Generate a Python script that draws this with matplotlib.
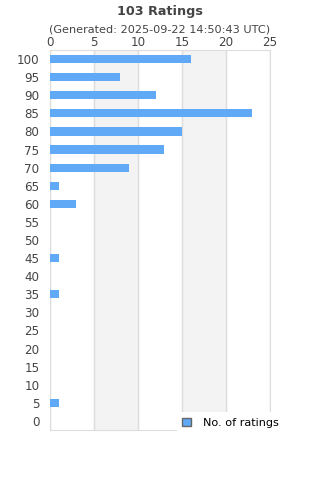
import numpy as np
import matplotlib
matplotlib.use("Agg")
import matplotlib.pyplot as plt
from matplotlib.patches import Patch

scores = [100, 95, 90, 85, 80, 75, 70, 65, 60, 55, 50, 45, 40, 35, 30, 25, 20, 15, 10, 5, 0]
counts = [16, 8, 12, 23, 15, 13, 9, 1, 3, 0, 0, 1, 0, 1, 0, 0, 0, 0, 0, 1, 0]
xticks = [0, 5, 10, 15, 20, 25]

txt = "#444444"
fig = plt.figure(figsize=(3.2, 4.8), dpi=100)
ax = fig.add_axes([50/320, 50/480, 220/320, 380/480])

y = np.arange(len(scores))
ax.barh(y, counts, height=0.45, color="#60a9f6", zorder=3)
ax.set_ylim(len(scores) - 0.5, -0.5)
ax.set_xlim(0, 25)

for a, b in [(5, 10), (15, 20)]:
    ax.axvspan(a, b, color="#f3f3f3", zorder=0)
for v in xticks:
    ax.axvline(v, color="#dddddd", lw=1, zorder=1)

ax.xaxis.tick_top()
ax.set_xticks(xticks)
ax.set_yticks(y)
ax.set_yticklabels([str(s) for s in scores])
ax.tick_params(length=0, labelsize=8.6, colors=txt)
ax.tick_params(axis="y", pad=7.5)
ax.tick_params(axis="x", pad=1)
for s in ax.spines.values():
    s.set_color("#dddddd")

fig.text(0.5, 1 - 11/480, "103 Ratings", ha="center", va="center",
         fontsize=9.2, fontweight="bold", color=txt)
fig.text(0.5, 1 - 30/480, "(Generated: 2025-09-22 14:50:43 UTC)", ha="center",
         va="center", fontsize=8.1, color=txt)

leg = ax.legend(handles=[Patch(facecolor="#60a9f6", edgecolor="#666666", label="No. of ratings")],
                loc="lower right", bbox_to_anchor=(1.09, -0.024), frameon=True, fancybox=False,
                fontsize=8.1, handlelength=0.8, handleheight=0.8, borderpad=0.5,
                handletextpad=1.0)
leg.get_frame().set_edgecolor("white")
leg.get_frame().set_facecolor("white")
leg.get_frame().set_alpha(1)
leg.get_frame().set_linewidth(0)
leg.set_zorder(5)
leg.set_clip_on(False)

plt.savefig("out.png", dpi=100)
